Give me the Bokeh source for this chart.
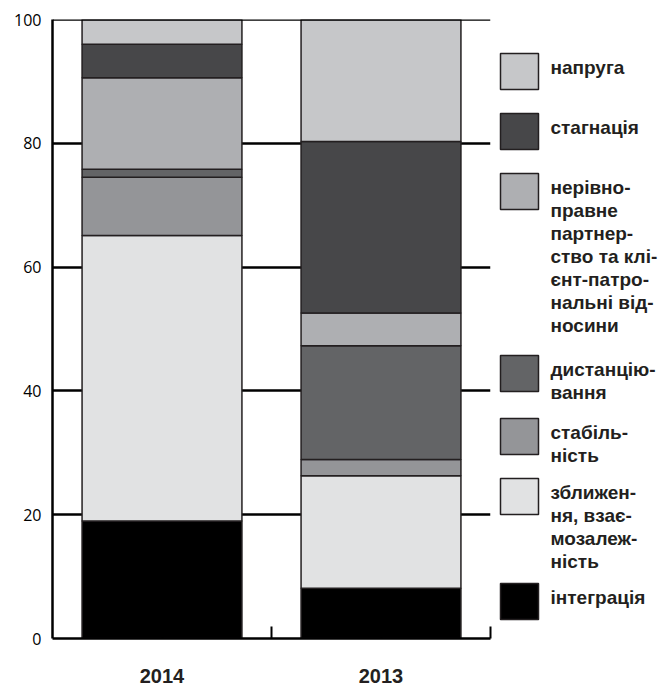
from bokeh.plotting import figure
from bokeh.models import ColumnDataSource, Range1d, FixedTicker, Span
from bokeh.layouts import row
from bokeh.embed import file_html
from bokeh.resources import INLINE
from bokeh.core.properties import value

# ---- data ----
years = ["2014", "2013"]
integration = [19.0, 8.1]        # інтеграція
rapprochement = [46.1, 18.2]     # зближення, взаємозалежність
stability = [9.4, 2.6]           # стабільність
distancing = [1.3, 18.4]         # дистанціювання
unequal = [14.8, 5.3]            # нерівноправне партнерство ...
stagnation = [5.4, 27.7]         # стагнація
tension = [4.0, 19.7]            # напруга

series_keys = ["integration", "rapprochement", "stability", "distancing",
               "unequal", "stagnation", "tension"]
series_labels = ["інтеграція",
                 "зближен-\nня, взає-\nмозалеж-\nність",
                 "стабіль-\nність",
                 "дистанцію-\nвання",
                 "нерівно-\nправне\nпартнер-\nство та клі-\nєнт-патро-\nнальні від-\nносини",
                 "стагнація",
                 "напруга"]
series_colors = ["#000000", "#e1e2e3", "#949598", "#636466",
                 "#aeafb2", "#474749", "#c6c7c9"]
y_ticks = [0, 20, 40, 60, 80, 100]

# ---- layout constants ----
OUTLINE = "#231f20"
FRAME_W, FRAME_H = 438, 619
TOP, LEFT, BOTTOM, RIGHT = 19, 52, 48, 4

xpos = [i + 0.5 for i in range(len(years))]
source = ColumnDataSource(dict(
    x=xpos, year=years,
    integration=integration, rapprochement=rapprochement, stability=stability,
    distancing=distancing, unequal=unequal, stagnation=stagnation, tension=tension,
))

p = figure(frame_width=FRAME_W, frame_height=FRAME_H,
           x_range=Range1d(0, len(years)), y_range=Range1d(0, 100),
           output_backend="svg", toolbar_location=None,
           min_border_left=LEFT, min_border_right=RIGHT, min_border_top=TOP,
           min_border_bottom=BOTTOM)
p.outline_line_color = None
p.background_fill_color = "white"
p.border_fill_color = "white"

p.vbar_stack(series_keys, x="x", width=0.73, source=source,
             fill_color=series_colors, line_color=OUTLINE, line_width=1.5)

# grid
p.xgrid.visible = False
p.ygrid.ticker = FixedTicker(ticks=[t for t in y_ticks if 0 < t < 100])
p.ygrid.grid_line_color = "black"
p.ygrid.grid_line_width = 2.5

# top line
p.add_layout(Span(location=100, dimension="width", line_color="black", line_width=2.5))

# y axis
ya = p.yaxis[0]
ya.ticker = FixedTicker(ticks=y_ticks)
ya.axis_line_width = 2.5
ya.axis_line_color = "black"
ya.major_tick_line_color = None
ya.minor_tick_line_color = None
ya.major_label_text_font = "Open Sans"
ya.major_label_text_font_size = "16px"
ya.major_label_text_color = "black"
ya.major_label_standoff = 5

# x axis: ticks at category boundaries, labels at centres
xa = p.xaxis[0]
boundaries = [float(i + 1) for i in range(len(years))]
xa.ticker = FixedTicker(ticks=sorted(xpos + boundaries))
overrides = {float(x): y for x, y in zip(xpos, years)}
overrides.update({b: "" for b in boundaries})
xa.major_label_overrides = overrides
xa.axis_line_width = 2.5
xa.axis_line_color = "black"
xa.major_tick_in = 12
xa.major_tick_out = 0
xa.major_tick_line_width = 2
xa.major_tick_line_color = "black"
xa.minor_tick_line_color = None
xa.major_label_text_font = "Liberation Sans"
xa.major_label_text_font_style = "bold"
xa.major_label_text_font_size = "20px"
xa.major_label_text_color = OUTLINE
xa.major_label_standoff = 30

# ---- legend panel (frame aligned with the main frame; y in page pixels) ----
LEG_W = 166
leg = figure(frame_width=LEG_W, frame_height=FRAME_H,
             x_range=Range1d(0, LEG_W), y_range=Range1d(TOP + FRAME_H, TOP),
             output_backend="svg", toolbar_location=None,
             x_axis_type=None, y_axis_type=None,
             min_border_left=0, min_border_right=0,
             min_border_top=TOP, min_border_bottom=BOTTOM)
leg.outline_line_color = None
leg.grid.visible = False

# item tops (page px), top to bottom order = reversed series
leg_tops = [53, 113, 173, 355, 418, 478, 583]
order = list(reversed(range(len(series_keys))))
lsrc = ColumnDataSource(dict(
    left=[6] * len(order), right=[44] * len(order),
    top=leg_tops, bottom=[t + 36 for t in leg_tops],
    color=[series_colors[i] for i in order],
    label=[series_labels[i] for i in order],
    tx=[56] * len(order), ty=[t + 3 for t in leg_tops],
))
leg.quad(left="left", right="right", top="top", bottom="bottom", source=lsrc,
         fill_color="color", line_color=OUTLINE, line_width=1.5)
leg.text(x="tx", y="ty", text="label", source=lsrc,
         text_font=value("Liberation Sans"), text_font_style="bold",
         text_font_size="19px", text_baseline="top", text_align="left",
         text_line_height=1.1, text_color=OUTLINE)

layout = row(p, leg)
open("out.html", "w").write(file_html(layout, INLINE))
